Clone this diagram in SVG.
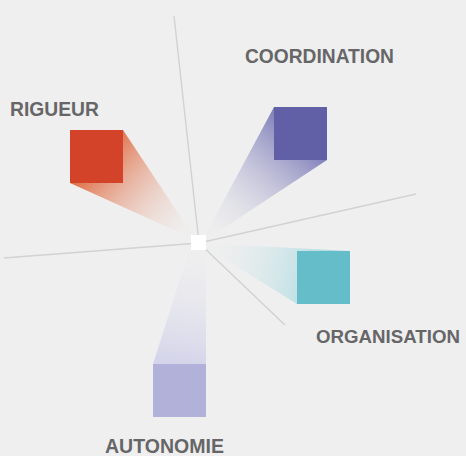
<svg xmlns="http://www.w3.org/2000/svg" width="466" height="456" viewBox="0 0 466 456">
<defs>
<linearGradient id="gR" gradientUnits="userSpaceOnUse" x1="96" y1="157" x2="196" y2="242"><stop offset="0" stop-color="#e07048" stop-opacity="1"/><stop offset="1" stop-color="#efefef" stop-opacity="0"/></linearGradient>
<linearGradient id="gC" gradientUnits="userSpaceOnUse" x1="300" y1="133" x2="199" y2="243"><stop offset="0" stop-color="#7f7eba" stop-opacity="1"/><stop offset="1" stop-color="#efefef" stop-opacity="0"/></linearGradient>
<linearGradient id="gO" gradientUnits="userSpaceOnUse" x1="323" y1="277" x2="199" y2="243"><stop offset="0" stop-color="#b0dce2" stop-opacity="1"/><stop offset="1" stop-color="#efefef" stop-opacity="0"/></linearGradient>
<linearGradient id="gA" gradientUnits="userSpaceOnUse" x1="180" y1="364" x2="199" y2="243"><stop offset="0" stop-color="#d4d4ea" stop-opacity="1"/><stop offset="1" stop-color="#efefef" stop-opacity="0.2"/></linearGradient>
</defs>
<style>
.ln{stroke:#d2d2d2;stroke-width:1.4;fill:none}
.lbl{font-family:"Liberation Sans",Arial,sans-serif;font-weight:bold;font-size:20px;fill:#666668}
.sm{font-size:19px}
</style>
<rect width="466" height="456" fill="#efefef"/>
<g id="shadows">
<polygon points="123,130 196,240 70,183" fill="url(#gR)"/>
<polygon points="274,107 327,160 201,243" fill="url(#gC)"/>
<polygon points="350,251 297,304 199,243" fill="url(#gO)"/>
<polygon points="153,364 206,364 206,243 191,245" fill="url(#gA)"/>
</g>
<g id="connectors">
<line class="ln" x1="174" y1="16" x2="199" y2="243"/>
<line class="ln" x1="4" y1="258" x2="199" y2="243"/>
<line class="ln" x1="199" y1="243" x2="416" y2="194"/>
<line class="ln" x1="199" y1="243" x2="285" y2="325"/>
</g>
<g id="rigueur"><rect x="70" y="130" width="53" height="53" fill="#d2432a"/><text class="lbl" x="10" y="116" textLength="89" lengthAdjust="spacingAndGlyphs">RIGUEUR</text></g>
<g id="coordination"><rect x="274" y="107" width="53" height="53" fill="#6160a6"/><text class="lbl" x="245" y="63" textLength="149" lengthAdjust="spacingAndGlyphs">COORDINATION</text></g>
<g id="organisation"><rect x="297" y="251" width="53" height="53" fill="#64bdc8"/><text class="lbl sm" x="316" y="343" textLength="144" lengthAdjust="spacingAndGlyphs">ORGANISATION</text></g>
<g id="autonomie"><rect x="153" y="364" width="53" height="53" fill="#b1b1d9"/><text class="lbl" x="105" y="453" textLength="119" lengthAdjust="spacingAndGlyphs">AUTONOMIE</text></g>
<g id="center"><rect x="191" y="235" width="15" height="15" fill="#ffffff"/></g>
</svg>
